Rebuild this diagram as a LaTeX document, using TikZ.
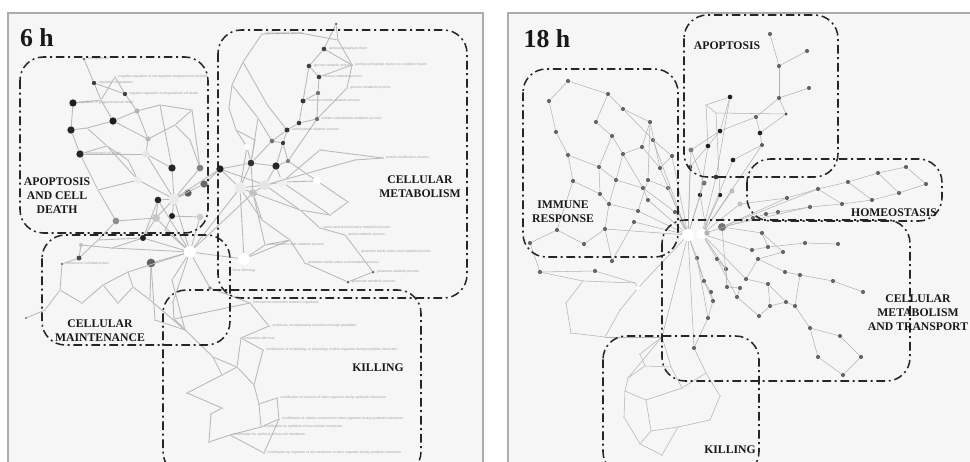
\documentclass[tikz,border=0pt]{standalone}
\usepackage{fontspec}
\setmainfont{Liberation Serif}
\setsansfont{Liberation Sans}
\usetikzlibrary{positioning}

\begin{document}
\begin{tikzpicture}[x=0.3mm,y=-0.3mm,
    khung/.style={draw=gray!65,line width=1.1pt,fill=gray!7},
    nhom/.style={draw=black!85,line width=1.3pt,rounded corners=7mm,
      dash pattern=on 2.6mm off 1.1mm on 0.6mm off 1.1mm},
    canh/.style={gray!55,line width=0.75pt},
    canhn/.style={gray!60,line width=0.45pt},
    dot/.style 2 args={circle,inner sep=0pt,minimum size=#2,fill=#1},
    nhan/.style={font=\bfseries\fontsize{10}{12}\selectfont,align=center,text=black!90,inner sep=1pt},
    tieude/.style={font=\bfseries\fontsize{22}{24}\selectfont,text=black!90},
    chu/.style={font=\sffamily\fontsize{2.9}{3.4}\selectfont,text=gray!75,inner sep=0.3pt}]

\useasboundingbox (0,0) rectangle (970,462);
\fill[white] (0,0) rectangle (970,462);
% Hai khung
\draw[khung] (8,13) rectangle (483,475);
\draw[khung] (508,13) rectangle (985,475);

% Mạng 6 h: các đỉnh
\foreach \n/\x/\y/\c/\r in {
  a1/84/59/black!55/0.9mm, a2/94/83/black!75/1.3mm, a3/115/77/gray!50/0.6mm,
  a4/125/94/black!75/1.3mm, a5/73/103/black!88/2.2mm, a6/113/121/black!88/2.2mm,
  a7/71/130/black!85/2.2mm, a8/80/154/black!85/2.2mm, a9/137/111/black!30/1.6mm,
  a10/148/139/black!28/1.6mm, a11/146/154/black!10/2.2mm, a12/172/168/black!85/2.2mm,
  a13/200/168/black!50/2mm, a14/204/184/black!60/2.2mm, a15/188/193/black!65/2.2mm,
  a16/158/200/black!85/2mm, a17/174/199/black!8/3mm, a18/172/216/black!88/1.8mm,
  a19/156/218/black!22/2.4mm, a20/116/221/black!45/2mm, a21/138/180/black!8/2.2mm,
  a22/220/169/black!88/2.2mm, a23/200/217/black!20/2mm, a24/101/100/gray!50/0.6mm,
  a25/87/128/gray!50/0.6mm, a26/192/110/gray!50/0.6mm, a27/107/146/gray!50/0.6mm,
  a28/98/190/gray!50/0.6mm, a29/190/140/gray!50/0.6mm, a30/175/125/gray!50/0.6mm,
  a31/128/160/gray!50/0.6mm, a32/160/105/gray!50/0.6mm,
  m1/336/24/black!55/0.9mm, m2/324/49/black!75/1.4mm, m3/309/66/black!75/1.4mm,
  m4/319/77/black!75/1.4mm, m5/318/93/black!55/1.3mm, m6/303/101/black!78/1.5mm,
  m7/317/119/black!55/1.3mm, m8/299/123/black!78/1.4mm, m9/287/130/black!80/1.5mm,
  m10/272/141/black!55/1.4mm, m11/283/143/black!78/1.3mm, m12/288/161/black!50/1.3mm,
  m13/276/166/black!85/2.2mm, m14/251/163/black!80/2mm, m15/282/182/black!6/3mm,
  m16/265/185/black!10/3mm, m17/317/181/white/2.2mm, m18/352/65/gray!50/0.6mm,
  m19/240/188/black!8/3.2mm, m20/253/193/black!22/2.4mm, m21/383/158/gray!50/0.6mm,
  m22/348/202/gray!50/0.6mm, m23/247/147/white/1.8mm,
  mv1/262/34/gray!50/0.6mm, mv2/300/33/gray!50/0.6mm, mv3/338/40/gray!50/0.6mm,
  mv4/347/88/gray!50/0.6mm, mv5/243/62/gray!50/0.6mm, mv6/232/85/gray!50/0.6mm,
  mv7/229/108/gray!50/0.6mm, mv8/236/130/gray!50/0.6mm, mv9/258/118/gray!50/0.6mm,
  mv10/268/106/gray!50/0.6mm, mv11/320/150/gray!50/0.6mm, mv12/355/160/gray!50/0.6mm,
  mv13/300/210/gray!50/0.6mm, mv14/320/228/gray!50/0.6mm, mv15/345/235/gray!50/0.6mm,
  mv16/262/220/gray!50/0.6mm, mv17/290/240/gray!50/0.6mm, mv18/265/245/gray!50/0.6mm,
  mv19/305/263/gray!50/0.6mm, mv20/358/252/gray!50/0.6mm, mv21/373/272/black!60/0.9mm,
  mv22/348/282/black!60/0.9mm, mv23/330/215/gray!50/0.6mm, mv25/255/140/gray!50/0.6mm,
  c1/143/238/black!88/1.8mm, c2/190/252/white/3.6mm, c3/151/263/black!62/2.6mm,
  c4/79/258/black!70/1.5mm, c5/81/245/black!25/1.2mm, c6/62/264/black!55/0.8mm,
  c7/26/318/black!55/0.7mm, c8/210/288/black!50/1.1mm, g1/244/259/white/3.6mm,
  cv1/60/290/gray!50/0.6mm, cv2/82/303/gray!50/0.6mm, cv3/103/285/gray!50/0.6mm,
  cv4/118/303/gray!50/0.6mm, cv5/133/287/gray!50/0.6mm, cv6/150/300/gray!50/0.6mm,
  cv7/128/272/gray!50/0.6mm, cv8/172/280/gray!50/0.6mm, cv9/155/320/gray!50/0.6mm,
  cv10/112/248/gray!50/0.6mm, cv11/165/230/gray!50/0.6mm, cv12/98/240/gray!50/0.6mm,
  cv13/45/310/gray!50/0.6mm, cv14/185/330/gray!50/0.6mm,
  k1/250/303/gray!55/0.6mm, k2/173/302/gray!55/0.6mm, k3/174/319/gray!55/0.6mm,
  k4/213/357/gray!55/0.6mm, k5/222/375/gray!55/0.6mm, k6/187/393/gray!55/0.6mm,
  k7/222/408/gray!55/0.6mm, k8/211/414/gray!55/0.6mm, k9/209/442/gray!55/0.6mm,
  k10/230/435/gray!55/0.6mm, k11/237/367/gray!55/0.6mm, k12/269/326/gray!55/0.6mm,
  k13/241/338/gray!55/0.6mm, k14/263/350/gray!55/0.6mm, k16/254/385/gray!55/0.6mm,
  k17/259/404/gray!55/0.6mm, k18/277/398/gray!55/0.6mm, k19/279/419/gray!55/0.6mm,
  k20/261/427/gray!55/0.6mm, k22/264/453/gray!55/0.6mm}
  \node[dot={\c}{\r}] (\n) at (\x,\y) {};

% Mạng 6 h: các cạnh
\foreach \a/\b in {a1/a2, a2/a4, a2/a24, a3/a4, a3/a24, a4/a9, a24/a5, a24/a6,
  a5/a7, a7/a8, a7/a25, a25/a6, a6/a9, a6/a10, a9/a32, a32/a26, a9/a10, a10/a11,
  a8/a11, a8/a27, a27/a31, a11/a17, a11/a12, a10/a30, a30/a26, a30/a29, a29/a13,
  a12/a17, a13/a17, a14/a17, a15/a17, a16/a17, a18/a17, a19/a17, a21/a17, a21/a27,
  a28/a21, a28/a20, a20/a19, a16/a19, a18/a23, a23/c2, a17/c2, a19/c2, a22/a17,
  a22/m19, a12/a32, a21/a31, a25/a27, a14/a22, a13/a26, a28/a8,
  m1/m2, m2/m3, m2/m18, m3/m4, m4/m18, m4/m5, m3/m6, m5/m6, m5/m7, m6/m8, m7/m8,
  m8/m9, m9/m10, m9/m11, m10/m11, m11/m12, m11/m13, m12/m13, m7/m12, m10/m14,
  m13/m14, m13/m15, m14/m19, m14/m20, m15/m16, m16/m19, m15/m17, m12/m17, m13/m16,
  mv1/mv5, mv5/mv6, mv6/mv7, mv7/mv8, mv8/m23, m23/m19, mv1/mv2, mv2/mv3, mv3/m18,
  m18/mv4, mv4/m7, mv5/mv10, mv10/m9, mv6/mv9, mv9/m10, mv8/mv25, mv25/m14,
  m16/mv12, mv12/m21, m15/mv11, mv11/m21, m17/m22, m16/mv13, mv13/mv14,
  mv14/mv15, mv15/mv20, mv20/mv21, mv21/mv22, mv22/mv19, mv19/mv17, mv17/mv16,
  mv16/m19, mv13/mv23, mv23/m22, mv18/g1, mv18/mv17, m20/mv16, m1/mv3, m19/g1,
  m20/c2, m19/c2, m16/m20, m19/mv13, m20/mv18, g1/mv17, m15/mv23, a22/m14,
  a22/m16, m23/m14, mv9/m14,
  c2/c1, c2/c3, c2/cv7, c2/cv8, c2/cv11, c2/cv10, c3/cv6, c3/cv9, c1/cv10,
  cv10/c5, c5/c4, c4/c6, c6/cv1, c4/cv12, cv12/c1, cv1/cv2, cv2/cv3, cv3/cv4,
  cv4/cv5, cv5/cv6, cv7/cv3, cv7/cv5, cv1/cv13, cv13/c7, cv6/cv14, cv8/cv14,
  cv9/cv14, c2/c8, c2/g1, cv11/a18, cv12/a20, c1/a16, c1/a19, c2/a16,
  c8/k1, c2/k2, k2/k3, k3/k4, k4/k5, k5/k6, k6/k7, k7/k8, k8/k9, k9/k10, k10/k22,
  k22/k19, k19/k18, k18/k17, k17/k16, k16/k11, k11/k13, k13/k12, k12/k1, k13/k14,
  k14/k16, k17/k20, k20/k10, k11/k5, k4/k11, k20/k19, k3/k1, cv14/k3}
  \draw[canh] (\a) -- (\b);

% Nhãn nhỏ 6 h
\foreach \n/\t in {a1/anti-apoptosis,
  a3/negative regulation of non-apoptotic programmed cell death,
  a2/regulation of apoptosis, a4/negative regulation of programmed cell death,
  a5/regulation of programmed cell death, a8/programmed cell death,
  c6/response to unfolded protein,
  mv1/NADP metabolic process, m2/pentose-phosphate shunt,
  m3/glucose catabolic process,
  m18/{pentose-phosphate shunt, non-oxidative branch},
  m4/hexose catabolic process, mv4/glucose metabolic process,
  m6/monosaccharide catabolic process, m9/carbohydrate catabolic process,
  m7/cellular carbohydrate metabolic process, m21/protein modification process,
  mv14/amino acid and derivative metabolic process, mv15/amine catabolic process,
  mv18/cellular amino acid catabolic process,
  mv20/glutamine family amino acid catabolic process,
  mv19/glutamine family amino acid metabolic process,
  mv21/glutamate catabolic process, mv22/glutamate metabolic process,
  k1/interspecies interaction between organisms,
  k12/{symbiosis, encompassing mutualism through parasitism},
  k13/interaction with host,
  k14/modification of morphology or physiology of other organism during symbiotic interaction,
  k18/modification of structure of other organism during symbiotic interaction,
  k19/modification of cellular component in other organism during symbiotic interaction,
  k20/modification by symbiont of host cellular component,
  k10/modification by symbiont of host cell membrane,
  k22/modification by organism of cell membrane in other organism during symbiotic interaction}
  \node[chu, right=0.5mm of \n] (t\n) {\t};
\node[chu, below=1mm of g1] (tg1) {Gene Ontology};

% Mạng 18 h: các đỉnh
\foreach \n/\x/\y/\c/\r in {
  z1/688/235/white/3.6mm, z2/702/234/white/3.2mm, z3/722/227/black!55/2.4mm,
  z4/707/233/black!30/1.6mm,
  i1/568/81/black!60/1.25mm, i2/549/101/black!60/1.25mm, i3/608/94/black!60/1.25mm,
  i4/623/109/black!60/1.25mm, i5/596/122/black!60/1.25mm, i6/556/132/black!60/1.25mm,
  i7/650/122/black!60/1.25mm, i8/612/136/black!60/1.25mm, i9/642/147/black!60/1.25mm,
  i10/653/140/black!60/1.25mm, i11/568/155/black!60/1.25mm, i12/623/154/black!60/1.25mm,
  i13/672/156/black!60/1.25mm, i14/599/167/black!60/1.25mm, i15/660/168/black!60/1.25mm,
  i16/573/181/black!60/1.25mm, i17/616/180/black!60/1.25mm, i18/648/180/black!60/1.25mm,
  i19/668/188/black!60/1.25mm, i20/600/194/black!60/1.25mm, i21/643/188/black!60/1.25mm,
  i22/609/204/black!60/1.25mm, i23/648/200/black!60/1.25mm, i24/638/211/black!60/1.25mm,
  i25/675/212/black!60/1.25mm, i26/634/222/black!60/1.25mm, i27/605/229/black!60/1.25mm,
  i28/557/230/black!60/1.25mm, i31/530/243/black!60/1.25mm, i32/584/244/black!60/1.25mm,
  i33/540/272/black!60/1.25mm, i34/595/271/black!60/1.25mm, i35/612/261/black!60/1.25mm,
  o1/566/303/gray!55/0.5mm, o2/571/333/gray!55/0.5mm, o3/583/281/gray!55/0.5mm,
  o4/635/283/gray!55/0.5mm, o5/620/310/gray!55/0.5mm, o6/638/288/white/1.2mm,
  o7/605/337/gray!55/0.5mm,
  p1/770/34/black!60/1.25mm, p2/807/51/black!60/1.25mm, p3/779/66/black!60/1.25mm,
  p4/809/88/black!60/1.25mm, p5/779/98/black!60/1.25mm, p6/786/114/black!70/1mm,
  p7/756/117/black!60/1.25mm, p8/760/133/black!88/1.4mm, p9/762/145/black!65/1.2mm,
  p10/733/160/black!88/1.4mm, p11/730/97/black!88/1.4mm, p12/720/131/black!88/1.4mm,
  p13/708/146/black!88/1.4mm, p15/691/150/black!50/1.5mm, p16/690/167/black!75/1.3mm,
  p17/704/183/black!55/1.5mm, p18/716/177/black!80/1.4mm, p19/700/195/black!88/1.3mm,
  p20/720/195/black!88/1.3mm, p21/732/191/black!25/1.5mm, p22/706/105/gray!55/0.5mm,
  p23/716/113/gray!55/0.5mm,
  h1/906/167/black!60/1.25mm, h2/878/173/black!60/1.25mm, h3/926/184/black!60/1.25mm,
  h4/848/182/black!60/1.25mm, h5/899/193/black!60/1.25mm, h6/818/189/black!60/1.25mm,
  h7/872/200/black!60/1.25mm, h8/842/204/black!60/1.25mm, h9/787/198/black!60/1.25mm,
  h10/810/207/black!60/1.25mm, h11/778/212/black!60/1.25mm, h12/766/214/black!60/1.25mm,
  h13/753/218/black!60/1.25mm, h14/740/204/black!25/1.5mm,
  n1/697/258/black!60/1.25mm, n2/717/259/black!60/1.25mm, n4/726/269/black!60/1.25mm,
  n5/704/281/black!60/1.25mm, n6/711/292/black!60/1.25mm, n7/713/301/black!60/1.25mm,
  n8/727/287/black!60/1.25mm, n9/737/297/black!60/1.25mm, n10/740/288/black!60/1.25mm,
  n11/708/318/black!60/1.25mm, n12/694/348/black!60/1.25mm, n13/762/233/black!60/1.25mm,
  n14/805/243/black!60/1.25mm, n15/838/244/black!60/1.25mm, n16/768/247/black!60/1.25mm,
  n17/752/250/black!60/1.25mm, n18/783/252/black!60/1.25mm, n19/758/259/black!60/1.25mm,
  n20/785/272/black!60/1.25mm, n21/800/275/black!60/1.25mm, n22/833/281/black!60/1.25mm,
  n23/863/292/black!60/1.25mm, n24/746/279/black!60/1.25mm, n25/768/284/black!60/1.25mm,
  n26/770/306/black!60/1.25mm, n27/786/302/black!60/1.25mm, n28/795/306/black!60/1.25mm,
  n29/759/316/black!60/1.25mm, n30/810/328/black!60/1.25mm, n31/840/336/black!60/1.25mm,
  n32/818/357/black!60/1.25mm, n33/861/357/black!60/1.25mm, n34/843/375/black!60/1.25mm,
  q1/640/354/gray!55/0.5mm, q2/645/366/gray!55/0.5mm, q3/628/378/gray!55/0.5mm,
  q4/625/391/gray!55/0.5mm, q5/646/400/gray!55/0.5mm, q6/624/417/gray!55/0.5mm,
  q7/651/431/gray!55/0.5mm, q8/640/444/gray!55/0.5mm, q9/662/455/gray!55/0.5mm,
  q10/678/427/gray!55/0.5mm, q11/682/388/gray!55/0.5mm, q12/706/373/gray!55/0.5mm,
  q13/720/396/gray!55/0.5mm, q14/710/420/gray!55/0.5mm, q15/671/367/gray!55/0.5mm,
  q16/662/337/gray!55/0.5mm}
  \node[dot={\c}{\r}] (\n) at (\x,\y) {};

% Mạng 18 h: các cạnh
\foreach \a/\b in {i1/i2, i2/i6, i6/i11, i11/i16, i1/i3, i3/i5, i3/i4, i5/i8,
  i8/i12, i12/i17, i4/i10, i10/z1, i7/i9, i7/i15, i7/i18, i9/i12, i9/i15, i13/z1,
  i11/i14, i14/i17, i14/i20, i16/i20, i17/i22, i17/i21, i20/i22, i22/i24, i21/i23,
  i18/i19, i19/z1, i23/z1, i24/z1, i25/z1, i26/z1, i27/z1, i28/i31, i31/i33,
  i33/i34, i28/i32, i32/i27, i27/i35, i15/z1, i18/i24, i13/i15, i10/i13, i16/i28,
  i4/i7, i12/i21, i8/i14, i22/i27, i26/i35, i21/i25,
  o1/o2, o3/o4, o3/o1, o5/o6, o5/o7, o4/o6, o6/z1, i34/o4, i33/o3, o2/o7, o7/q16,
  p1/p3, p2/p3, p3/p5, p4/p5, p5/p7, p7/p8, p6/p8, p8/p9, p9/p10, p6/p23, p11/p12,
  p11/p22, p22/p13, p12/p13, p12/p15, p13/p16, p15/p17, p16/z1, p17/z1, p18/z2,
  p19/z1, p20/z2, p21/z2, p10/z2, p9/z2, p7/p12, p23/p20, p11/p18, p5/p6, p22/p23,
  p15/z1, p13/p19, p19/z4,
  h1/h2, h1/h3, h2/h4, h2/h5, h3/h5, h4/h6, h4/h7, h5/h7, h6/h9, h6/h8, h7/h8,
  h8/h10, h9/h14, h10/h11, h11/h12, h12/h13, h13/z2, h14/z2, h9/z3, h10/z3, h6/z3,
  n1/z1, n2/z2, n4/z2, n5/z1, n6/n5, n7/n6, n8/z3, n10/n8, n9/n10, n11/n7, n12/n11,
  n13/z3, n13/n16, n16/n17, n17/z2, n14/n15, n16/n14, n18/n13, n18/n19, n19/n20,
  n20/n21, n21/n22, n22/n23, n24/n19, n24/n25, n25/n26, n26/n27, n27/n28, n28/n21,
  n29/n26, n29/n9, n30/n28, n30/n31, n30/n32, n31/n33, n33/n34, n32/n34, n24/z2,
  n25/n27, n1/n11, n2/n4, n4/n8, n5/n7, n1/n5, n2/n9, z1/n12,
  q16/q1, q1/q2, q2/q3, q3/q4, q4/q6, q6/q8, q8/q9, q9/q10, q10/q14, q14/q13,
  q13/q12, q12/n12, q11/q15, q15/q2, q5/q7, q7/q8, q4/q5, q5/q11, q11/q12,
  q16/q15, q16/z1, q3/q16, q7/q10}
  \draw[canhn] (\a) -- (\b);

% Các nhóm 6 h
\draw[nhom] (20,57) rectangle (208,233);
\draw[nhom] (218,30) rectangle (467,298);
\draw[nhom] (42,235) rectangle (230,345);
\draw[nhom] (163,290) rectangle (421,475);
% Các nhóm 18 h
\draw[nhom] (684,15) rectangle (838,177);
\draw[nhom] (523,69) rectangle (678,257);
\draw[nhom] (747,159) rectangle (942,221);
\draw[nhom] (662,220) rectangle (910,381);
\draw[nhom] (603,336) rectangle (759,475);

% Tiêu đề và tên nhóm
\node[tieude] (t6h) at (37,38) {6 h};
\node[tieude] (t18h) at (547,39) {18 h};
\node[nhan] (nApop) at (57,196) {APOPTOSIS\\AND CELL\\DEATH};
\node[nhan] (nMeta) at (420,187) {CELLULAR\\METABOLISM};
\node[nhan] (nMain) at (100,331) {CELLULAR\\MAINTENANCE};
\node[nhan] (nKill) at (378,368) {KILLING};
\node[nhan] (nApop2) at (727,46) {APOPTOSIS};
\node[nhan] (nImmu) at (563,212) {IMMUNE\\RESPONSE};
\node[nhan] (nHomeo) at (894,213) {HOMEOSTASIS};
\node[nhan] (nMeta2) at (918,313) {CELLULAR\\METABOLISM\\AND TRANSPORT};
\node[nhan] (nKill2) at (730,450) {KILLING};
\end{tikzpicture}
\end{document}
